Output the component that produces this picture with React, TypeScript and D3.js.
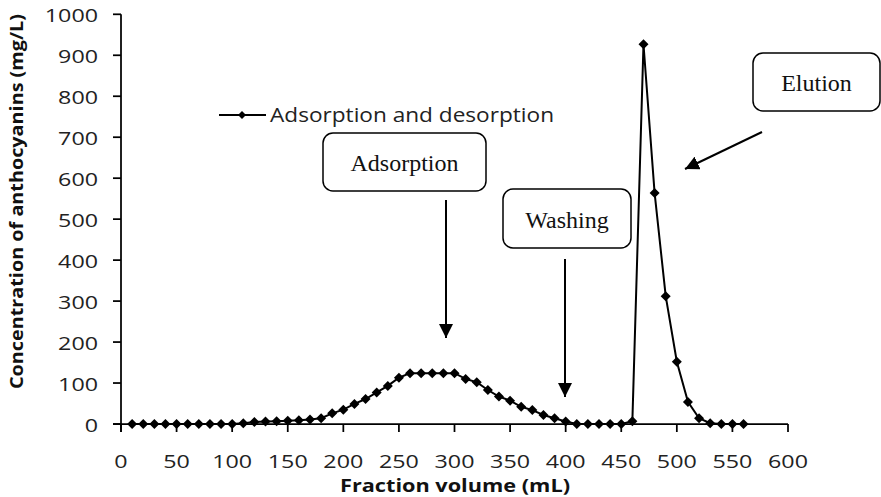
import React from "react";
import * as d3 from "d3";

// Fraction volume (mL) of each collected fraction
const volumes = [
  10, 20, 30, 40, 50, 60, 70, 80, 90, 100,
  110, 120, 130, 140, 150, 160, 170, 180, 190, 200,
  210, 220, 230, 240, 250, 260, 270, 280, 290, 300,
  310, 320, 330, 340, 350, 360, 370, 380, 390, 400,
  410, 420, 430, 440, 450, 460, 470, 480, 490, 500,
  510, 520, 530, 540, 550, 560,
];

// Anthocyanin concentration (mg/L) in each fraction
const concentrations = [
  0, 0, 0, 0, 0, 0, 0, 0, 0, 0,
  2, 5, 6, 7, 8, 9, 11, 14, 26, 35,
  49, 61, 77, 93, 113, 124, 124, 124, 124, 124,
  110, 102, 83, 67, 57, 42, 34, 22, 14, 6,
  0, 0, 0, 0, 0, 7, 927, 564, 312, 152,
  54, 14, 2, 0, 0, 0,
];

const xTicks = [0, 50, 100, 150, 200, 250, 300, 350, 400, 450, 500, 550, 600];
const yTicks = [0, 100, 200, 300, 400, 500, 600, 700, 800, 900, 1000];

const seriesName = "Adsorption and desorption";
const xTitle = "Fraction volume (mL)";
const yTitle = "Concentration of anthocyanins (mg/L)";

const W = 881;
const H = 497;
const left = 121;
const right = 788;
const top = 14.3;
const bottom = 424;
const tickLen = 8;
const digitWidth = 13.3; // the axis font is set wide

const sansFont = "'Open Sans', Lato, sans-serif";
const serifFont = "'Liberation Serif', 'Times New Roman', serif";

function diamond(cx: number, cy: number, r: number) {
  return `M${cx},${cy - r}L${cx + r},${cy}L${cx},${cy + r}L${cx - r},${cy}Z`;
}

function Callout({ x, y, w, h, label }: { x: number; y: number; w: number; h: number; label: string }) {
  return (
    <g>
      <rect x={x} y={y} width={w} height={h} rx={10} ry={10} fill="#fff" stroke="#000" strokeWidth={1.5} />
      <text
        x={x + w / 2}
        y={y + h / 2 + 1}
        textAnchor="middle"
        dominantBaseline="central"
        fontFamily={serifFont}
        fontSize={24}
        fill="#111"
      >
        {label}
      </text>
    </g>
  );
}

export default function App() {
  const x = d3.scaleLinear().domain([0, 600]).range([left, right]);
  const y = d3.scaleLinear().domain([0, 1000]).range([bottom, top]);

  const points = volumes.map((v, i) => [v, concentrations[i]] as [number, number]);
  const line = d3
    .line<[number, number]>()
    .x((d) => x(d[0]))
    .y((d) => y(d[1]));

  return (
    <svg
      width={W}
      height={H}
      style={{ position: "absolute", left: 0, top: 0, background: "#fff" }}
      xmlns="http://www.w3.org/2000/svg"
    >
      <defs>
        <marker id="arrowHead" viewBox="0 0 10 10" refX="10" refY="5" markerWidth="7" markerHeight="7" orient="auto" markerUnits="strokeWidth">
          <path d="M0,0L10,5L0,10Z" fill="#000" />
        </marker>
      </defs>

      {/* Axes */}
      <line x1={left - tickLen} x2={right} y1={bottom} y2={bottom} stroke="#000" strokeWidth={1.75} />
      <line x1={left} x2={left} y1={top} y2={bottom + tickLen} stroke="#000" strokeWidth={1.75} />

      {yTicks.map((t) => (
        <g key={`y${t}`}>
          <line x1={left - tickLen} x2={left} y1={y(t)} y2={y(t)} stroke="#000" strokeWidth={1.75} />
          <text
            x={98}
            y={y(t)}
            textAnchor="end"
            dominantBaseline="central"
            fontFamily={sansFont}
            fontSize={18.5}
            textLength={String(t).length * digitWidth}
            lengthAdjust="spacingAndGlyphs"
            fill="#222"
          >
            {t}
          </text>
        </g>
      ))}

      {xTicks.map((t) => (
        <g key={`x${t}`}>
          <line x1={x(t)} x2={x(t)} y1={bottom} y2={bottom + tickLen} stroke="#000" strokeWidth={1.75} />
          <text
            x={x(t)}
            y={460}
            textAnchor="middle"
            dominantBaseline="central"
            fontFamily={sansFont}
            fontSize={18.5}
            textLength={String(t).length * digitWidth}
            lengthAdjust="spacingAndGlyphs"
            fill="#222"
          >
            {t}
          </text>
        </g>
      ))}

      {/* Axis titles */}
      <text
        x={455}
        y={492}
        textAnchor="middle"
        fontFamily={sansFont}
        fontWeight={700}
        fontSize={18}
        textLength={230}
        lengthAdjust="spacingAndGlyphs"
        fill="#111"
      >
        {xTitle}
      </text>
      <text
        transform={`translate(23, 201.5) rotate(-90)`}
        textAnchor="middle"
        fontFamily={sansFont}
        fontWeight={700}
        fontSize={17.5}
        textLength={375}
        lengthAdjust="spacingAndGlyphs"
        fill="#111"
      >
        {yTitle}
      </text>

      {/* Series */}
      <path d={line(points) ?? ""} fill="none" stroke="#000" strokeWidth={2} />
      {points.map((p, i) => (
        <path key={i} d={diamond(x(p[0]), y(p[1]), 5)} fill="#000" />
      ))}

      {/* Legend */}
      <line x1={219} x2={266} y1={115} y2={115} stroke="#000" strokeWidth={2} />
      <path d={diamond(242, 115, 4)} fill="#000" />
      <text
        x={270}
        y={121.5}
        fontFamily={sansFont}
        fontSize={20}
        textLength={284}
        lengthAdjust="spacingAndGlyphs"
        fill="#222"
      >
        {seriesName}
      </text>

      {/* Process-stage callouts */}
      <Callout x={323} y={133} w={163} h={58} label="Adsorption" />
      <line x1={446} y1={200} x2={446} y2={338} stroke="#000" strokeWidth={2} markerEnd="url(#arrowHead)" />

      <Callout x={503} y={189} w={128} h={59} label="Washing" />
      <line x1={565} y1={259} x2={565} y2={397} stroke="#000" strokeWidth={2} markerEnd="url(#arrowHead)" />

      <Callout x={753} y={53} w={127} h={58} label="Elution" />
      <line x1={762} y1={132} x2={685} y2={169} stroke="#000" strokeWidth={2} markerEnd="url(#arrowHead)" />
    </svg>
  );
}
